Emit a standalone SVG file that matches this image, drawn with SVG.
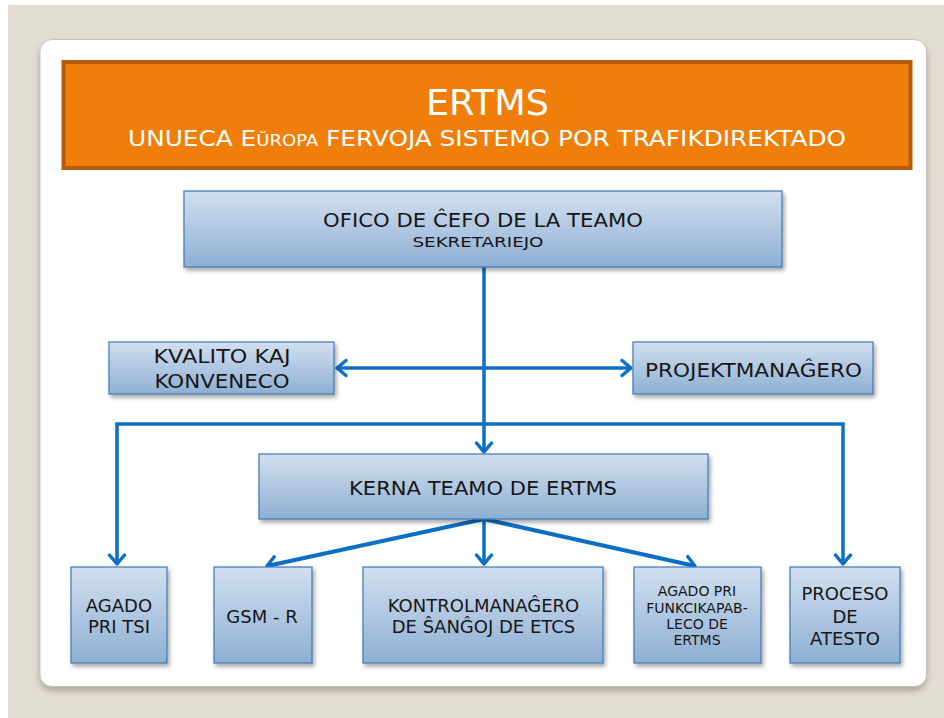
<svg xmlns="http://www.w3.org/2000/svg" width="944" height="718" viewBox="0 0 944 718">
  <style>
    text { font-family: "DejaVu Sans", "Liberation Sans", sans-serif; fill: #161616; }
    .title { fill: #ffffff; }
    .box { fill: url(#boxGrad); stroke: #3b7ab3; stroke-width: 1.2; filter: url(#boxShadow); }
    .conn { fill: none; stroke: #0b70c4; stroke-width: 3.5; }
    .diag { stroke-width: 4.2; }
  </style>
  <defs>
    <linearGradient id="boxGrad" x1="0" y1="0" x2="0" y2="1">
      <stop offset="0" stop-color="#d2e0f0"/>
      <stop offset="1" stop-color="#8eafd3"/>
    </linearGradient>
    <filter id="boxShadow" x="-10%" y="-10%" width="125%" height="135%">
      <feDropShadow dx="2" dy="3" stdDeviation="2" flood-color="#000" flood-opacity="0.35"/>
    </filter>
    <filter id="cardShadow" x="-5%" y="-5%" width="110%" height="112%">
      <feDropShadow dx="0" dy="4" stdDeviation="3" flood-color="#6b6358" flood-opacity="0.45"/>
    </filter>
    <marker id="arr" viewBox="-12 -10 14 20" markerWidth="14" markerHeight="20" refX="0" refY="0" orient="auto-start-reverse" markerUnits="userSpaceOnUse">
      <path d="M-9,-7.5 L0,0 L-9,7.5" fill="none" stroke="#0b70c4" stroke-width="3.5" stroke-linecap="round" stroke-linejoin="round"/>
    </marker>
  </defs>

  <rect x="0" y="0" width="944" height="718" fill="#ffffff"/>
  <rect x="8" y="5" width="936" height="713" fill="#e3ded3"/>
  <rect x="40" y="39.5" width="886.5" height="647" rx="12" ry="12" fill="#ffffff" stroke="#c8c4bc" stroke-width="1" filter="url(#cardShadow)"/>

  <g id="header">
    <rect x="63.5" y="62" width="847" height="106" fill="#ef7f0a" stroke="#b45c08" stroke-width="4"/>
    <text class="title" x="487.5" y="115" font-size="35" text-anchor="middle" textLength="123" lengthAdjust="spacingAndGlyphs">ERTMS</text>
    <text class="title" x="487" y="146" font-size="22" text-anchor="middle" textLength="718" lengthAdjust="spacingAndGlyphs">UNUECA E<tspan font-size="16">ŬROPA</tspan> FERVOJA SISTEMO POR TRAFIKDIREKTADO</text>
  </g>

  <g id="connectors">
    <path class="conn" d="M484,267 V452" marker-end="url(#arr)"/>
    <path class="conn" d="M337,368 H631" marker-start="url(#arr)" marker-end="url(#arr)"/>
    <path class="conn" d="M117,564 V424 H843 V564" marker-start="url(#arr)" marker-end="url(#arr)"/>
    <path class="conn diag" d="M484,519 L267,566" marker-end="url(#arr)"/>
    <path class="conn" d="M484,519 V564" marker-end="url(#arr)"/>
    <path class="conn diag" d="M484,519 L695,566" marker-end="url(#arr)"/>
  </g>

  <g id="ofico">
    <rect class="box" x="184" y="191" width="598" height="76"/>
    <text x="483" y="227" font-size="19" text-anchor="middle" textLength="320" lengthAdjust="spacingAndGlyphs">OFICO DE ĈEFO DE LA TEAMO</text>
    <text x="478" y="247" font-size="14.5" text-anchor="middle" textLength="131" lengthAdjust="spacingAndGlyphs">SEKRETARIEJO</text>
  </g>

  <g id="kvalito">
    <rect class="box" x="109" y="342" width="225" height="52"/>
    <text x="222" y="363" font-size="20" text-anchor="middle" textLength="137" lengthAdjust="spacingAndGlyphs">KVALITO KAJ</text>
    <text x="222" y="388" font-size="20" text-anchor="middle" textLength="135" lengthAdjust="spacingAndGlyphs">KONVENECO</text>
  </g>

  <g id="projekt">
    <rect class="box" x="633" y="342" width="240" height="52"/>
    <text x="753.5" y="377" font-size="20" text-anchor="middle" textLength="217" lengthAdjust="spacingAndGlyphs">PROJEKTMANAĜERO</text>
  </g>

  <g id="kerna">
    <rect class="box" x="259" y="454" width="449" height="65"/>
    <text x="483" y="495" font-size="19" text-anchor="middle" textLength="268" lengthAdjust="spacingAndGlyphs">KERNA TEAMO DE ERTMS</text>
  </g>

  <g id="agado-tsi">
    <rect class="box" x="71" y="567" width="96" height="96"/>
    <text x="119" y="612" font-size="18" text-anchor="middle">AGADO</text>
    <text x="119" y="633" font-size="18" text-anchor="middle">PRI TSI</text>
  </g>

  <g id="gsm">
    <rect class="box" x="214" y="567" width="98" height="96"/>
    <text x="262" y="623" font-size="18" text-anchor="middle">GSM - R</text>
  </g>

  <g id="kontrol">
    <rect class="box" x="363" y="567" width="240" height="96"/>
    <text x="483.5" y="612" font-size="18" text-anchor="middle">KONTROLMANAĜERO</text>
    <text x="483.5" y="633" font-size="18" text-anchor="middle">DE ŜANĜOJ DE ETCS</text>
  </g>

  <g id="agado-funkc">
    <rect class="box" x="634" y="567" width="127" height="96"/>
    <text x="697" y="596" font-size="14" text-anchor="middle">AGADO PRI</text>
    <text x="697" y="613" font-size="14" text-anchor="middle">FUNKCIKAPAB-</text>
    <text x="697" y="629" font-size="14" text-anchor="middle">LECO DE</text>
    <text x="697" y="645" font-size="14" text-anchor="middle">ERTMS</text>
  </g>

  <g id="proceso">
    <rect class="box" x="790" y="567" width="110" height="96"/>
    <text x="845" y="600" font-size="18" text-anchor="middle">PROCESO</text>
    <text x="845" y="622.5" font-size="18" text-anchor="middle">DE</text>
    <text x="845" y="644.5" font-size="18" text-anchor="middle">ATESTO</text>
  </g>
</svg>
